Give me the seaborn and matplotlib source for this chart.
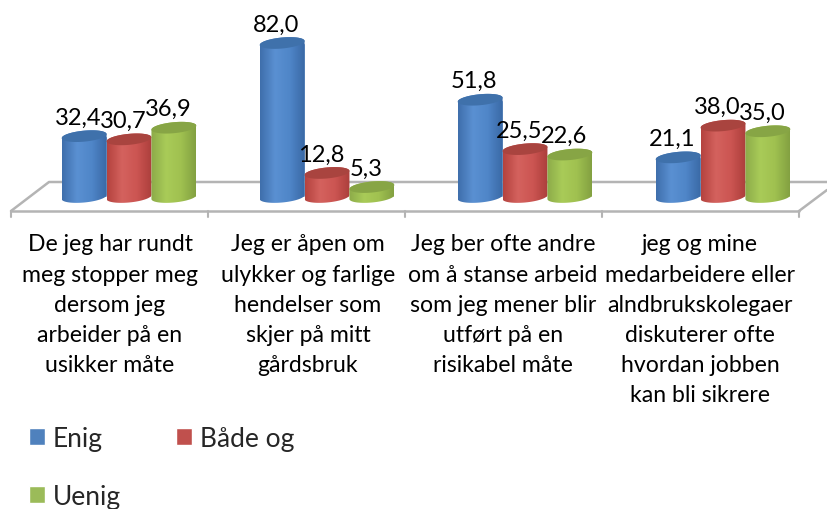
import numpy as np
import pandas as pd
import matplotlib; matplotlib.use("Agg")
import matplotlib.pyplot as plt
import seaborn as sns
from matplotlib.colors import LinearSegmentedColormap
from matplotlib.patches import Polygon

sns.set_style("white")
plt.rcParams["font.family"] = ["Lato", "DejaVu Sans"]

categories = [
    "De jeg har rundt\nmeg stopper meg\ndersom jeg\narbeider på en\nusikker måte",
    "Jeg er åpen om\nulykker og farlige\nhendelser som\nskjer på mitt\ngårdsbruk",
    "Jeg ber ofte andre\nom å stanse arbeid\nsom jeg mener blir\nutført på en\nrisikabel måte",
    "jeg og mine\nmedarbeidere eller\nalndbrukskolegaer\ndiskuterer ofte\nhvordan jobben\nkan bli sikrere",
]
series = ["Enig", "Både og", "Uenig"]
enig = [32.4, 82.0, 51.8, 21.1]
begge = [30.7, 12.8, 25.5, 38.0]
uenig = [36.9, 5.3, 22.6, 35.0]

base = ["#4f81bd", "#c0504d", "#9bbb59"]
shades = [["#3f6fac", "#5a90d2", "#4f86c8", "#3a69a6"],
          ["#b5433f", "#d4625e", "#cc5552", "#ac3f3c"],
          ["#8cab49", "#a9cb58", "#a0c150", "#83a141"]]
tops = ["#3f71ab", "#a9443f", "#87a545"]

df = pd.DataFrame({
    "cat": np.repeat(categories, 3),
    "serie": series * 4,
    "val": [v for trio in zip(enig, begge, uenig) for v in trio],
})

W, H = 827, 510
zero_y = 198
px_per_unit = 1.878

fig = plt.figure(figsize=(W / 100, H / 100), dpi=100)
ax = fig.add_axes([30 / W, 1 - zero_y / H, 792 / W, zero_y / H])
sns.barplot(df, x="cat", y="val", hue="serie", hue_order=series, palette=base,
            width=0.68, gap=0, saturation=1, errorbar=None, ax=ax)
ax.set_ylim(0, zero_y / px_per_unit)
ax.set_xlim(-0.5, 3.5)
ax.set(xlabel="", ylabel="", xticks=[], yticks=[])
sns.despine(ax=ax, left=True, bottom=True)

# legend: order so that two columns read Enig / Både og on the first row
h, l = ax.get_legend_handles_labels()
ax.legend([h[0], h[2], h[1]], [l[0], l[2], l[1]], ncol=2, frameon=False,
          loc="upper left", bbox_to_anchor=(29 / W, 1 - 427 / H), bbox_transform=fig.transFigure,
          fontsize=19, handlelength=0.6, handleheight=0.6, handletextpad=0.3,
          labelspacing=1.24, columnspacing=2.08, borderpad=0, borderaxespad=0)

# overlay in reference pixels, for the floor and the cylinder look
ov = fig.add_axes([0, 0, 1, 1], facecolor="none")
ov.set_axis_off()

floor = "#b4b4b4"
ov.plot([11, 799], [212, 212], color=floor, lw=1.8, zorder=1)
ov.plot([11, 49, 827], [212, 183, 183], color=floor, lw=1.8, zorder=1)
ov.plot([799, 827], [212, 191], color=floor, lw=1.8, zorder=1)
for x in [11, 208, 405, 602, 799]:
    ov.plot([x, x], [212, 218], color=floor, lw=1.5, zorder=1)

ov.set_xlim(0, W); ov.set_ylim(H, 0)

b = 5.5
slope = 0.09
t = np.linspace(0, np.pi, 40)
z = 10
for i, cont in enumerate(ax.containers):
    cmap = LinearSegmentedColormap.from_list("c", shades[i])
    for p in cont.patches:
        (x0, y1), (x1, y0) = (ax.transData + fig.transFigure.inverted()).transform(
            [(p.get_x(), 0), (p.get_x() + p.get_width(), p.get_height())])
        x0, x1 = x0 * W, x1 * W
        y0, y1 = (1 - y0) * H, (1 - y1) * H
        cx, a = (x0 + x1) / 2, (x1 - x0) / 2
        # bottom arc left to right, top arc right to left
        ex = -a * np.cos(t)
        bot = np.c_[cx + ex, y1 + b * np.sin(t) - ex * slope]
        top = np.c_[cx - ex, y0 - b * np.sin(t) + ex * slope]
        body = Polygon(np.vstack([bot, top]), closed=True, transform=ov.transData,
                       fc="none", ec="none")
        ov.add_patch(body)
        im = ov.imshow(np.linspace(0, 1, 64)[None, :], cmap=cmap, aspect="auto",
                       extent=[x0, x1, y1 + b + 3, y0 - b - 3], zorder=z)
        im.set_clip_path(body)
        lid = np.vstack([np.c_[cx + ex, y0 + b * np.sin(t) - ex * slope],
                         np.c_[cx - ex, y0 - b * np.sin(t) + ex * slope]])
        ov.add_patch(Polygon(lid, closed=True, fc=tops[i], ec="none", zorder=z + 1))
        ov.text(cx - 6, y0 - 19, f"{p.get_height():.1f}".replace(".", ","), fontsize=17,
                ha="center", va="center", color="black", zorder=100)
        z += 2

ov.set_xlim(0, W); ov.set_ylim(H, 0)

for cat, x in zip(categories, [110, 308, 503, 700]):
    ov.text(x, 234.5, cat, fontsize=16.6, ha="center", va="top", color="black",
            linespacing=1.53, zorder=100)

plt.savefig("out.png", dpi=100)
